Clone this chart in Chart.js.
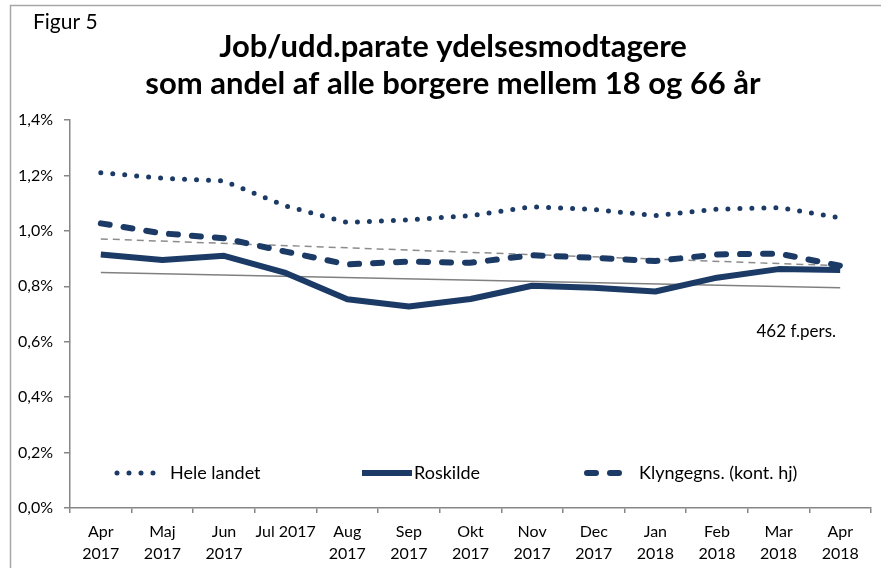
<!DOCTYPE html>
<html>
<head>
<meta charset="utf-8">
<script src="https://cdn.jsdelivr.net/npm/chart.js@4/dist/chart.umd.min.js"></script>
<style>
  html, body { margin: 0; padding: 0; background: #fff; }
  #wrap { position: relative; width: 881px; height: 568px; }
  canvas { display: block; }
</style>
</head>
<body>
<div id="wrap"><canvas id="c" width="881" height="568"></canvas></div>
<script>
// ---- data ----
const categories = [['Apr','2017'],['Maj','2017'],['Jun','2017'],'Jul 2017',['Aug','2017'],['Sep','2017'],['Okt','2017'],['Nov','2017'],['Dec','2017'],['Jan','2018'],['Feb','2018'],['Mar','2018'],['Apr','2018']];
const seriesNames = ['Hele landet', 'Roskilde', 'Klyngegns. (kont. hj)'];
const heleLandet = [1.210, 1.190, 1.180, 1.090, 1.030, 1.040, 1.055, 1.087, 1.077, 1.055, 1.078, 1.084, 1.047];
const roskilde   = [0.915, 0.895, 0.910, 0.848, 0.753, 0.727, 0.754, 0.802, 0.795, 0.781, 0.831, 0.862, 0.859];
const klynge     = [1.027, 0.991, 0.973, 0.925, 0.879, 0.889, 0.885, 0.912, 0.903, 0.891, 0.915, 0.918, 0.874];
const trendRoskilde = [0.850, null, null, null, null, null, null, null, null, null, null, null, 0.795];
const trendKlynge   = [0.971, null, null, null, null, null, null, null, null, null, null, null, 0.874];
const yTicks = [0, 0.2, 0.4, 0.6, 0.8, 1.0, 1.2, 1.4];
const titleLines = ['Job/udd.parate ydelsesmodtagere', 'som andel af alle borgere mellem 18 og 66 år'];
const figLabel = 'Figur 5';
const noteText = '462 f.pers.';

const NAVY = '#1b3a66';
const GRAY = '#868686';
const FONT = 'Lato, Carlito, "Liberation Sans", sans-serif';

const decor = {
  id: 'decor',
  beforeDraw(chart) {
    const ctx = chart.ctx;
    ctx.save();
    ctx.strokeStyle = '#a6a6a6';
    ctx.lineWidth = 1.5;
    ctx.beginPath();
    ctx.moveTo(10.5, 568);
    ctx.lineTo(10.5, 5.5);
    ctx.lineTo(881, 5.5);
    ctx.stroke();
    ctx.restore();
  },
  afterDraw(chart) {
    const ctx = chart.ctx;
    ctx.save();
    ctx.fillStyle = '#000';
    ctx.textBaseline = 'alphabetic';
    ctx.textAlign = 'left';
    ctx.font = '21px ' + FONT;
    ctx.fillText(figLabel, 33, 29);
    ctx.textAlign = 'center';
    ctx.font = 'bold 31px ' + FONT;
    ctx.fillText(titleLines[0], 453, 57);
    ctx.fillText(titleLines[1], 453, 94);
    // note
    ctx.font = '17px ' + FONT;
    ctx.textAlign = 'right';
    ctx.textBaseline = 'middle';
    ctx.fillText(noteText, 836, 332);
    // legend
    const ly = 473;
    const items = [
      {ds: 0, x0: 117, x1: 155, tx: 170},
      {ds: 1, x0: 362, x1: 412, tx: 414},
      {ds: 2, x0: 587, x1: 624, tx: 639}
    ];
    items.forEach(it => {
      const d = chart.data.datasets[it.ds];
      ctx.save();
      ctx.strokeStyle = d.borderColor;
      ctx.lineWidth = d.borderWidth;
      ctx.lineCap = d.borderCapStyle || 'butt';
      ctx.setLineDash(d.borderDash || []);
      ctx.beginPath();
      ctx.moveTo(it.x0, ly);
      ctx.lineTo(it.x1, ly);
      ctx.stroke();
      ctx.restore();
      ctx.textAlign = 'left';
      ctx.textBaseline = 'middle';
      ctx.fillStyle = '#000';
      ctx.font = '18px ' + FONT;
      ctx.fillText(d.label, it.tx, ly);
    });
    ctx.restore();
  }
};

new Chart(document.getElementById('c'), {
  type: 'line',
  data: {
    labels: categories,
    datasets: [
      { label: seriesNames[0], data: heleLandet, borderColor: NAVY, borderWidth: 5, borderDash: [0, 12], borderCapStyle: 'round', pointRadius: 0, tension: 0 },
      { label: seriesNames[1], data: roskilde, borderColor: NAVY, borderWidth: 6, pointRadius: 0, tension: 0, borderJoinStyle: 'round' },
      { label: seriesNames[2], data: klynge, borderColor: NAVY, borderWidth: 6, borderDash: [9, 14], borderCapStyle: 'round', pointRadius: 0, tension: 0 },
      { label: 'trend Roskilde', data: trendRoskilde, borderColor: '#808080', borderWidth: 1.5, pointRadius: 0, spanGaps: true },
      { label: 'trend Klynge', data: trendKlynge, borderColor: '#8c8c8c', borderWidth: 1.5, borderDash: [7, 5], pointRadius: 0, spanGaps: true }
    ]
  },
  options: {
    responsive: false,
    animation: false,
    devicePixelRatio: 1,
    layout: { padding: { top: 120, right: 10, left: 0, bottom: 0 } },
    plugins: { legend: { display: false }, title: { display: false }, tooltip: { enabled: false } },
    scales: {
      x: {
        offset: true,
        grid: { display: true, drawOnChartArea: false, drawTicks: true, tickLength: 5, color: GRAY, lineWidth: 1.5, offset: true },
        border: { color: GRAY, width: 1.5 },
        ticks: { color: '#000', font: { family: FONT, size: 16, lineHeight: 1.38 }, padding: 8, maxRotation: 0, autoSkip: false },
        afterFit(s) { s.height = 60; }
      },
      y: {
        min: 0, max: 1.4,
        afterBuildTicks(s) { s.ticks = yTicks.map(v => ({ value: v })); },
        grid: { display: true, drawOnChartArea: false, drawTicks: true, tickLength: 6, color: GRAY, lineWidth: 1.5 },
        border: { color: GRAY, width: 1.5 },
        ticks: { color: '#000', font: { family: FONT, size: 16 }, padding: 11,
          callback: v => v.toFixed(1).replace('.', ',') + '%' },
        afterFit(s) { s.width = 70; }
      }
    }
  },
  plugins: [decor]
});
</script>
</body>
</html>
